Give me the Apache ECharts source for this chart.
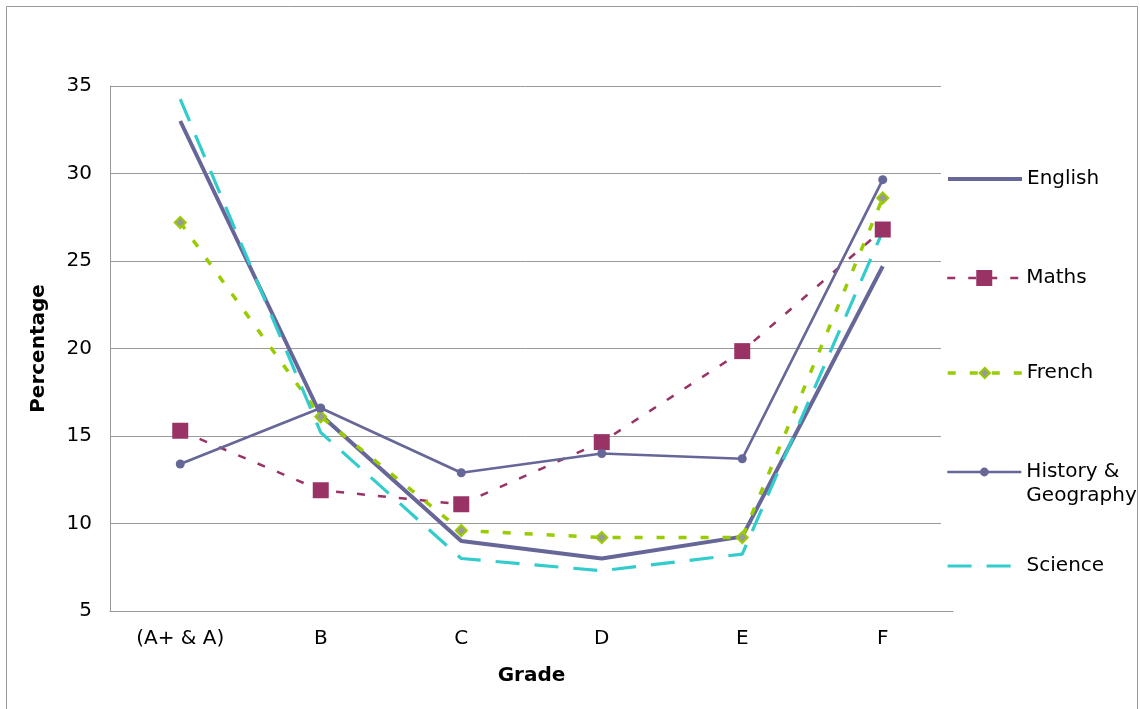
<!DOCTYPE html>
<html>
<head>
<meta charset="utf-8">
<script src="https://cdn.jsdelivr.net/npm/echarts@6/dist/echarts.min.js"></script>
<style>
html,body{margin:0;padding:0;background:#fff;}
#chart{width:1140px;height:709px;}
</style>
</head>
<body>
<div id="chart"></div>
<script>
var categories = ['(A+ & A)', 'B', 'C', 'D', 'E', 'F'];
var english = [33.0, 16.2, 9.0, 8.0, 9.25, 24.7];
var maths = [15.3, 11.9, 11.1, 14.65, 19.85, 26.8];
var french = [27.2, 16.1, 9.6, 9.2, 9.2, 28.6];
var historyGeography = [13.4, 16.6, 12.9, 14.0, 13.7, 29.65];
var science = [34.25, 15.2, 8.0, 7.3, 8.25, 26.7];
var yTicks = [5, 10, 15, 20, 25, 30, 35];

var FONT = 'DejaVu Sans';
var HG = 'History & Geography';
var chart = echarts.init(document.getElementById('chart'), null, {renderer: 'canvas'});

function legendFor(name, top, itemHeight, lineWidth, hideSymbol) {
  var lg = {
    data: [name],
    orient: 'vertical',
    left: 946,
    top: top,
    padding: 0,
    itemWidth: 74,
    itemHeight: itemHeight,
    selectedMode: false,
    lineStyle: {width: lineWidth},
    textStyle: {fontFamily: FONT, fontSize: 20, color: '#000', lineHeight: 24},
    formatter: function (n) { return n === HG ? '\nHistory &\nGeography' : n; }
  };
  if (hideSymbol) { lg.itemStyle = {opacity: 0}; }
  return lg;
}

chart.setOption({
  animation: false,
  backgroundColor: '#fff',
  graphic: [{
    type: 'rect',
    shape: {x: 6.5, y: 6.5, width: 1131, height: 740},
    style: {fill: 'none', stroke: '#999', lineWidth: 1},
    silent: true
  }],
  grid: [
    {left: 110, top: 86, right: 187, bottom: 98, containLabel: false},
    {left: 110, top: 86, right: 199, bottom: 98, containLabel: false}
  ],
  legend: [
    legendFor('English', 167, 14, 4, true),
    legendFor('Maths', 266, 20, 2.5, false),
    legendFor('French', 361, 13, 3.5, false),
    legendFor(HG, 436, 11, 2.7, false),
    legendFor('Science', 554, 14, 3.2, true)
  ],
  xAxis: [{
    type: 'category',
    gridIndex: 0,
    data: categories,
    boundaryGap: true,
    name: 'Grade',
    nameLocation: 'middle',
    nameGap: 55,
    nameTextStyle: {fontFamily: FONT, fontSize: 20, fontWeight: 'bold', color: '#000'},
    axisLine: {show: true, lineStyle: {color: '#999', width: 1}},
    axisTick: {show: false},
    axisLabel: {fontFamily: FONT, fontSize: 20, color: '#000', margin: 18, interval: 0},
    z: 3
  }, {
    type: 'category',
    gridIndex: 1,
    data: categories,
    show: false
  }],
  yAxis: [{
    type: 'value',
    gridIndex: 0,
    min: yTicks[0],
    max: yTicks[yTicks.length - 1],
    interval: 5,
    name: 'Percentage',
    nameLocation: 'middle',
    nameGap: 61,
    nameTextStyle: {fontFamily: FONT, fontSize: 20, fontWeight: 'bold', color: '#000'},
    axisLine: {show: true, lineStyle: {color: '#999', width: 1}},
    axisTick: {show: false},
    axisLabel: {fontFamily: FONT, fontSize: 20, color: '#000', margin: 18},
    splitLine: {show: false}
  }, {
    type: 'value',
    gridIndex: 1,
    min: yTicks[0],
    max: yTicks[yTicks.length - 1],
    interval: 5,
    axisLine: {show: false},
    axisTick: {show: false},
    axisLabel: {show: false},
    splitLine: {show: true, lineStyle: {color: '#999', width: 1}}
  }],
  series: [
    {
      name: 'English', type: 'line', data: english,
      symbol: 'none',
      lineStyle: {color: '#666699', width: 4},
      itemStyle: {color: '#666699'}
    },
    {
      name: 'Maths', type: 'line', data: maths,
      symbol: 'rect', symbolSize: 16,
      lineStyle: {color: '#993366', width: 2.5, type: [8, 13]},
      itemStyle: {color: '#993366'}
    },
    {
      name: 'French', type: 'line', data: french,
      symbol: 'diamond', symbolSize: 11,
      lineStyle: {color: '#99CC00', width: 3.5, type: [8, 14]},
      itemStyle: {color: '#999999', borderColor: '#99CC00', borderWidth: 2}
    },
    {
      name: HG, type: 'line', data: historyGeography,
      symbol: 'circle', symbolSize: 9,
      lineStyle: {color: '#666699', width: 2.7},
      itemStyle: {color: '#666699'}
    },
    {
      name: 'Science', type: 'line', data: science,
      symbol: 'none',
      lineStyle: {color: '#33CCCC', width: 3.2, type: [24, 15]},
      itemStyle: {color: '#33CCCC'}
    }
  ]
});
</script>
</body>
</html>
